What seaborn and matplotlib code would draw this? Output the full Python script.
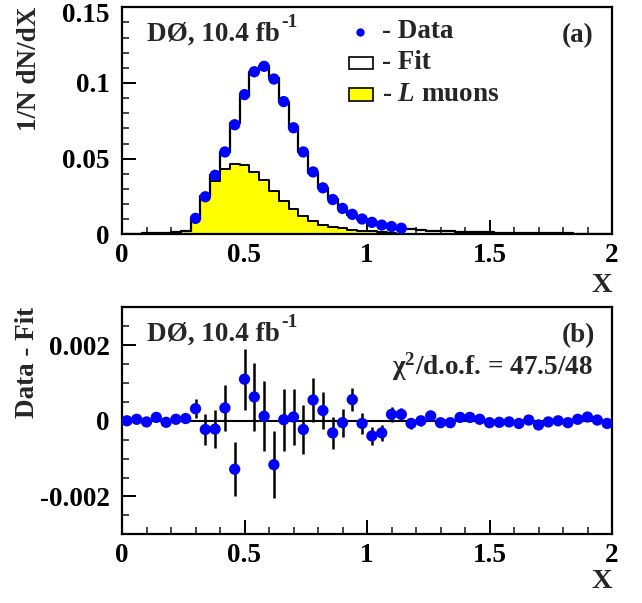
import numpy as np
import pandas as pd
import seaborn as sns
import matplotlib
matplotlib.use("Agg")
import matplotlib.pyplot as plt
from matplotlib.ticker import MultipleLocator, FixedLocator, FuncFormatter
from matplotlib.patches import Rectangle
from matplotlib.transforms import ScaledTranslation

# ---------------- data ----------------
bin_edges = [round(0.04 * i, 2) for i in range(51)]
bin_centers = [round(0.04 * i + 0.02, 2) for i in range(50)]

fit_values = [0.0002, 0.0004, 0.0007, 0.0009, 0.0011, 0.0016, 0.0024, 0.0102,
              0.0251, 0.0392, 0.0541, 0.0733, 0.0916, 0.1070, 0.1109, 0.1034,
              0.0877, 0.0703, 0.0546, 0.0406, 0.0304, 0.0233, 0.0171, 0.0126,
              0.0101, 0.0083, 0.0064, 0.0049, 0.0038, 0.0032, 0.0028, 0.0024,
              0.0021, 0.0019, 0.0017, 0.0015, 0.0014, 0.0012, 0.0011, 0.0010,
              0.0009, 0.0008, 0.0008, 0.0007, 0.0006, 0.0006, 0.0005, 0.0005,
              0.0004, 0.0004]

lmuon_values = [0, 0, 0, 0, 0, 0, 0.0022, 0.0102,
                0.0248, 0.0350, 0.0430, 0.0465, 0.0456, 0.0412, 0.0357, 0.0287,
                0.0219, 0.0167, 0.0120, 0.0088, 0.0061, 0.0048, 0.0040, 0.0030,
                0.0024, 0.0019, 0.0012, 0.0006, 0.0003, 0, 0, 0,
                0, 0, 0, 0, 0, 0, 0, 0,
                0, 0, 0, 0, 0, 0, 0, 0,
                0, 0]

data_x = [0.30, 0.34, 0.38, 0.42, 0.46, 0.50, 0.54, 0.58, 0.62, 0.66, 0.70,
          0.74, 0.78, 0.82, 0.86, 0.90, 0.94, 0.98, 1.02, 1.06, 1.10, 1.14]
data_y = [0.0105, 0.0248, 0.0390, 0.0544, 0.0724, 0.0923, 0.1074, 0.1110,
          0.1026, 0.0877, 0.0704, 0.0544, 0.0412, 0.0307, 0.0230, 0.0171,
          0.0132, 0.0101, 0.0079, 0.0061, 0.0051, 0.0040]

resid = [0.0, 0.00004, -0.00003, 0.00009, -0.00004, 0.00004, 0.00006, 0.00032,
         -0.00023, -0.00022, 0.00034, -0.00128, 0.00110, 0.00063, 0.00012, -0.00116,
         0.00003, 0.00010, -0.00023, 0.00055, 0.00027, -0.00032, -0.00005, 0.00056,
         -0.00007, -0.00040, -0.00032, 0.00017, 0.00017, -0.00007, 0.0, 0.00013,
         -0.00005, -0.00005, 0.00009, 0.00009, 0.00004, -0.00005, -0.00004, -0.00003,
         -0.00007, 0.00002, -0.00011, -0.00003, 0.0, -0.00005, 0.00004, 0.00010,
         0.00002, -0.00007]
resid_err = [0.00003, 0.00004, 0.00005, 0.00006, 0.00007, 0.00008, 0.00010, 0.00025,
             0.00040, 0.00050, 0.00060, 0.00072, 0.00081, 0.00090, 0.00092, 0.00089,
             0.00082, 0.00074, 0.00066, 0.00057, 0.00048, 0.00042, 0.00037, 0.00030,
             0.00027, 0.00023, 0.00021, 0.00019, 0.00017, 0.00015, 0.00013, 0.00012,
             0.00011, 0.00010, 0.00009, 0.00009, 0.00008, 0.00008, 0.00007, 0.00007,
             0.00006, 0.00006, 0.00006, 0.00005, 0.00005, 0.00005, 0.00005, 0.00004,
             0.00004, 0.00004]

x_ticks = [0, 0.5, 1, 1.5, 2]
top_y_ticks = [0, 0.05, 0.1, 0.15]
bot_y_ticks = [-0.002, 0, 0.002]

hist_df = pd.DataFrame({'X': bin_centers, 'fit': fit_values, 'lmu': lmuon_values,
                        'resid': resid, 'err': resid_err})
data_df = pd.DataFrame({'X': data_x, 'y': data_y})

# ---------------- style ----------------
sns.set_style("ticks")
plt.rcParams['font.family'] = ['Liberation Serif', 'DejaVu Serif']
plt.rcParams['font.weight'] = 'bold'
plt.rcParams['mathtext.fontset'] = 'custom'
plt.rcParams['mathtext.rm'] = 'Liberation Serif:bold'
plt.rcParams['mathtext.bf'] = 'Liberation Serif:bold'
plt.rcParams['mathtext.it'] = 'Liberation Serif:italic:bold'

FS = 19.5
W, H = 642, 603
fig = plt.figure(figsize=(W / 100, H / 100), dpi=100)

def px_axes(left, top, right, bottom):
    return fig.add_axes([left / W, 1 - bottom / H, (right - left) / W, (bottom - top) / H])

ax1 = px_axes(122, 7.3, 612, 234.3)
ax2 = px_axes(122, 307.3, 612, 534.3)

fmt = FuncFormatter(lambda v, p: ('%g' % v))

# ---------------- top panel ----------------
sns.histplot(data=hist_df, x='X', weights='lmu', bins=bin_edges, element='step',
             fill=True, facecolor='#ffff00', edgecolor='black', linewidth=1.4,
             alpha=1, ax=ax1, zorder=1)
sns.histplot(data=hist_df, x='X', weights='fit', bins=bin_edges, element='step',
             fill=False, color='black', linewidth=1.6, ax=ax1, zorder=2)
sns.scatterplot(data=data_df, x='X', y='y', color='#0000ff', s=66, edgecolor='none',
                ax=ax1, zorder=3)
ax1.set_ylim(0, 0.15)
ax1.yaxis.set_major_locator(FixedLocator(top_y_ticks))
ax1.yaxis.set_minor_locator(MultipleLocator(0.01))

# ---------------- bottom panel ----------------
ax2.axhline(0, color='black', linewidth=1.5, zorder=1)
ax2.errorbar(hist_df['X'], hist_df['resid'], yerr=hist_df['err'], fmt='none',
             ecolor='black', elinewidth=1.8, capsize=0, zorder=2)
sns.scatterplot(data=hist_df, x='X', y='resid', color='#0000ff', s=66,
                edgecolor='none', ax=ax2, zorder=3)
ax2.set_ylim(-0.003, 0.003)
ax2.yaxis.set_major_locator(FixedLocator(bot_y_ticks))
ax2.yaxis.set_minor_locator(MultipleLocator(0.0005))

for ax in (ax1, ax2):
    for s in ax.spines.values():
        s.set_visible(True)
        s.set_color('black')
        s.set_linewidth(1.6)
    ax.set_xlim(0, 2)
    ax.xaxis.set_major_locator(FixedLocator(x_ticks))
    ax.xaxis.set_minor_locator(MultipleLocator(0.1))
    ax.xaxis.set_major_formatter(fmt)
    ax.yaxis.set_major_formatter(fmt)
    ax.tick_params(axis='both', which='major', direction='in', length=10, width=1.4,
                   labelsize=FS, top=False, right=False, colors='black')
    ax.tick_params(axis='both', which='minor', direction='in', length=5, width=1.2,
                   top=False, right=False)
    ax.tick_params(axis='x', which='major', pad=6)
    ax.tick_params(axis='y', which='major', pad=9)
    ax.set_xlabel('')
    ax.set_ylabel('')

# shift the topmost y label of the upper panel down a little (as in the reference)
fig.canvas.draw()
for tick in ax1.yaxis.get_major_ticks():
    if abs(tick.get_loc() - 0.15) < 1e-9:
        lab = tick.label1
        lab.set_transform(lab.get_transform() + ScaledTranslation(0, -4 / 72, fig.dpi_scale_trans))


def lumi_text(ax, y):
    t = ax.text(0.051, y, 'DØ, 10.4 fb', transform=ax.transAxes,
                fontsize=FS, fontweight='bold', ha='left', va='baseline')
    ax.annotate('-1', xy=(1.0, 0.62), xycoords=t, xytext=(1, 0),
                textcoords='offset points', fontsize=14, fontweight='bold',
                ha='left', va='bottom')


lumi_text(ax1, 0.852)
ax1.text(0.962, 0.845, '(a)', transform=ax1.transAxes, fontsize=FS,
         fontweight='bold', ha='right', va='baseline')

# legend (drawn manually)
ax1.plot([0.486], [0.891], 'o', color='#0000ff', markersize=6, transform=ax1.transAxes,
         markeredgewidth=0, clip_on=False)
ax1.text(0.530, 0.866, '- Data', transform=ax1.transAxes, fontsize=FS,
         fontweight='bold', ha='left', va='baseline')
ax1.add_patch(Rectangle((0.463, 0.726), 0.049, 0.055, transform=ax1.transAxes,
                        facecolor='white', edgecolor='black', linewidth=1.2))
ax1.text(0.530, 0.726, '- Fit', transform=ax1.transAxes, fontsize=FS,
         fontweight='bold', ha='left', va='baseline')
ax1.add_patch(Rectangle((0.463, 0.588), 0.049, 0.056, transform=ax1.transAxes,
                        facecolor='#ffff00', edgecolor='black', linewidth=1.2))
ax1.text(0.530, 0.588, '- $L$ muons', transform=ax1.transAxes, fontsize=FS,
         fontweight='bold', ha='left', va='baseline')

lumi_text(ax2, 0.853)
ax2.text(0.965, 0.848, '(b)', transform=ax2.transAxes, fontsize=FS,
         fontweight='bold', ha='right', va='baseline')
ax2.text(0.961, 0.702, r'χ$^{2}$/d.o.f. = 47.5/48', transform=ax2.transAxes,
         fontsize=FS, fontweight='bold', ha='right', va='baseline')

# axis titles
fig.text(29 / W, 1 - 7 / H, '1/N dN/dX', rotation=90, ha='center', va='top',
         fontsize=FS, fontweight='bold')
fig.text(28 / W, 1 - 307 / H, 'Data - Fit', rotation=90, ha='center', va='top',
         fontsize=FS, fontweight='bold')
fig.text(612 / W, 1 - 285 / H, 'X', ha='right', va='center', fontsize=FS + 1,
         fontweight='bold')
fig.text(612 / W, 1 - 582 / H, 'X', ha='right', va='center', fontsize=FS + 1,
         fontweight='bold')

fig.savefig('out.png', dpi=100, facecolor='white')
